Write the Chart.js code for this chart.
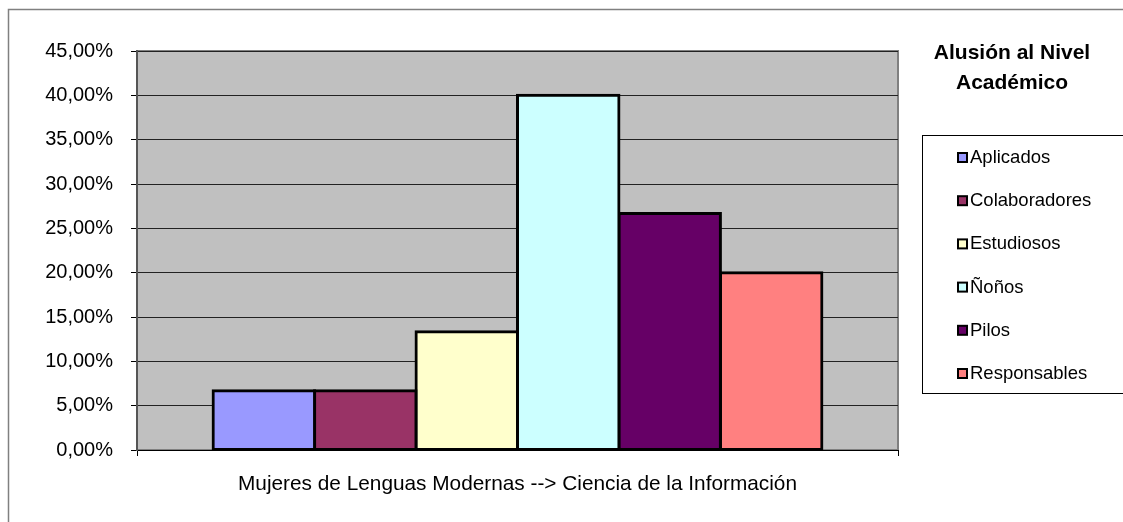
<!DOCTYPE html>
<html>
<head>
<meta charset="utf-8">
<script src="https://cdn.jsdelivr.net/npm/chart.js@4.4.0/dist/chart.umd.min.js"></script>
<style>
html,body{margin:0;padding:0;background:#fff;overflow:hidden}
#wrap{position:relative;width:1123px;height:522px}
</style>
</head>
<body>
<div id="wrap"><canvas id="c" width="1123" height="522"></canvas></div>
<script>
// ---- data ----
const categories = ['Mujeres de Lenguas Modernas --> Ciencia de la Información'];
const seriesNames = ['Aplicados', 'Colaboradores', 'Estudiosos', 'Ñoños', 'Pilos', 'Responsables'];
const seriesValues = [6.67, 6.67, 13.33, 40.0, 26.67, 20.0];
const seriesColors = ['#9999FF', '#993366', '#FFFFCC', '#CCFFFF', '#660066', '#FF8080'];
const yTickValues = [0, 5, 10, 15, 20, 25, 30, 35, 40, 45];
const yTickLabels = ['0,00%', '5,00%', '10,00%', '15,00%', '20,00%', '25,00%', '30,00%', '35,00%', '40,00%', '45,00%'];
const legendTitle = ['Alusión al Nivel', 'Académico'];

const FONT = "'Liberation Sans', Arial, sans-serif";

const bgPlugin = {
  id: 'bgPlugin',
  beforeDraw(chart) {
    const ctx = chart.ctx, a = chart.chartArea;
    ctx.save();
    ctx.fillStyle = '#fff';
    ctx.fillRect(0, 0, chart.width, chart.height);
    // outer frame
    ctx.strokeStyle = '#808080';
    ctx.lineWidth = 1.5;
    ctx.beginPath();
    ctx.moveTo(8.5, chart.height);
    ctx.lineTo(8.5, 9.5);
    ctx.lineTo(chart.width, 9.5);
    ctx.stroke();
    // plot area
    ctx.fillStyle = '#C0C0C0';
    ctx.fillRect(a.left, a.top, a.right - a.left, a.bottom - a.top);
    ctx.strokeStyle = '#808080';
    ctx.lineWidth = 2;
    ctx.strokeRect(a.left, a.top, a.right - a.left, a.bottom - a.top);
    ctx.restore();
  }
};

const legendPlugin = {
  id: 'legendPlugin',
  afterDraw(chart) {
    const ctx = chart.ctx;
    ctx.save();
    ctx.fillStyle = '#000';
    ctx.textAlign = 'center';
    ctx.textBaseline = 'middle';
    ctx.font = 'bold 21px ' + FONT;
    legendTitle.forEach((t, i) => ctx.fillText(t, 1012, 53 + i * 30));
    // box
    ctx.strokeStyle = '#000';
    ctx.lineWidth = 1;
    ctx.strokeRect(922.5, 135.5, 260, 258);
    ctx.font = '18.5px ' + FONT;
    ctx.textAlign = 'left';
    chart.data.datasets.forEach((ds, i) => {
      const y = 157 + i * 43.2;
      ctx.fillStyle = '#000';
      ctx.fillRect(957, y - 5, 11, 11);
      ctx.fillStyle = ds.backgroundColor;
      ctx.fillRect(959, y - 3, 7, 7);
      ctx.fillStyle = '#000';
      ctx.fillText(ds.label, 970, y + 1);
    });
    ctx.restore();
  }
};

new Chart(document.getElementById('c'), {
  type: 'bar',
  data: {
    labels: categories,
    datasets: seriesNames.map((n, i) => ({
      label: n,
      data: [seriesValues[i]],
      backgroundColor: seriesColors[i],
      borderColor: '#000',
      borderWidth: 3,
      inflateAmount: 1.5,
      borderSkipped: false,
      categoryPercentage: 0.8,
      barPercentage: 1.0
    }))
  },
  options: {
    responsive: false,
    animation: false,
    devicePixelRatio: 1,
    layout: { padding: { left: 0, top: 51, right: 225, bottom: 0 } },
    plugins: { legend: { display: false }, tooltip: { enabled: false } },
    scales: {
      x: {
        grid: { display: true, drawOnChartArea: false, drawTicks: true, tickLength: 6, color: '#000', offset: true },
        border: { display: true, color: '#000', width: 1 },
        ticks: { color: '#000', font: { family: FONT, size: 20.8 }, padding: 16, maxRotation: 0, autoSkip: false },
        afterFit(s) { s.height = 72; }
      },
      y: {
        min: 0, max: 45,
        afterBuildTicks(s) { s.ticks = yTickValues.map(v => ({ value: v })); },
        grid: { color: '#222', lineWidth: 1, drawTicks: true, tickLength: 6, tickColor: '#000' },
        border: { display: true, color: '#555', width: 2 },
        ticks: {
          color: '#000', font: { family: FONT, size: 20 }, padding: 18,
          callback: (v) => yTickLabels[yTickValues.indexOf(v)]
        },
        afterFit(s) { s.width = 137; }
      }
    }
  },
  plugins: [bgPlugin, legendPlugin]
});
</script>
</body>
</html>
